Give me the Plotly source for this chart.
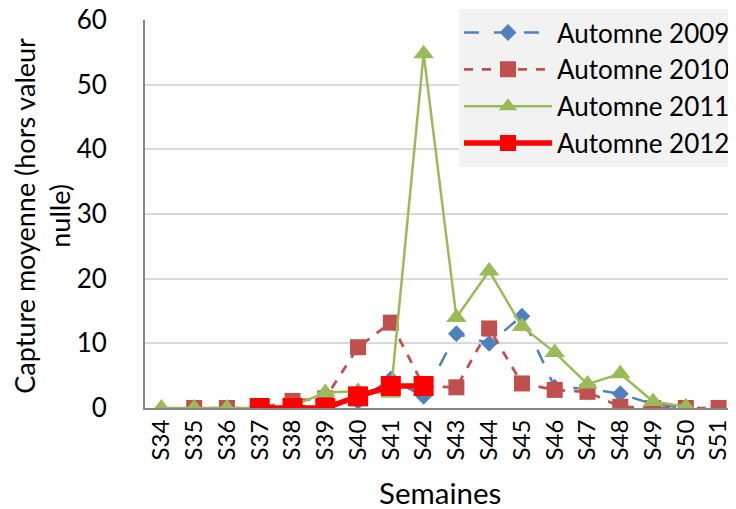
import plotly.graph_objects as go

weeks = ["S34", "S35", "S36", "S37", "S38", "S39", "S40", "S41", "S42",
         "S43", "S44", "S45", "S46", "S47", "S48", "S49", "S50", "S51"]

weeks_2009 = ["S37", "S38", "S39", "S40", "S41", "S42", "S43", "S44", "S45",
              "S46", "S47", "S48", "S49", "S50"]
vals_2009 = [0, 0.3, 0.5, 1.0, 4.5, 1.8, 11.5, 10.0, 14.2, 3.2, 3.0, 2.2, 0.6, 0]

weeks_2010 = ["S35", "S36", "S37", "S38", "S39", "S40", "S41", "S42", "S43",
              "S44", "S45", "S46", "S47", "S48", "S49", "S50", "S51"]
vals_2010 = [0, 0, 0, 1.1, 1.5, 9.4, 13.2, 3.4, 3.2, 12.3, 3.8, 2.8, 2.5, 0.2, 0, 0, 0]

weeks_2011 = ["S34", "S35", "S36", "S37", "S38", "S39", "S40", "S41", "S42",
              "S43", "S44", "S45", "S46", "S47", "S48", "S49", "S50"]
vals_2011 = [0, 0, 0, 0, 0.3, 2.4, 2.6, 2.3, 54.8, 14.0, 21.2, 12.6, 8.6, 3.7, 5.3, 1.0, 0.2]

weeks_2012 = ["S37", "S38", "S39", "S40", "S41", "S42"]
vals_2012 = [0, 0, 0, 1.8, 3.4, 3.4]

y_ticks = [0, 10, 20, 30, 40, 50, 60]

x_title = "Semaines"
y_title = "Capture moyenne (hors valeur<br>nulle)"

FONT = "Lato"
AXIS_GRAY = "#868686"

fig = go.Figure()
fig.add_trace(go.Scatter(
    x=weeks_2009, y=vals_2009, name="Automne 2009", mode="lines+markers",
    line=dict(color="#4f81bd", width=2.5, dash="longdash"),
    marker=dict(symbol="diamond", size=13, color="#4f81bd")))
fig.add_trace(go.Scatter(
    x=weeks_2010, y=vals_2010, name="Automne 2010", mode="lines+markers",
    line=dict(color="#c0504d", width=2.75, dash="dash"),
    marker=dict(symbol="square", size=16, color="#c0504d")))
fig.add_trace(go.Scatter(
    x=weeks_2011, y=vals_2011, name="Automne 2011", mode="lines+markers",
    line=dict(color="#9bbb59", width=2.5),
    marker=dict(symbol="triangle-up", size=18, color="#9bbb59")))
fig.add_trace(go.Scatter(
    x=weeks_2012, y=vals_2012, name="Automne 2012", mode="lines+markers",
    line=dict(color="#ff0000", width=5.5),
    marker=dict(symbol="square", size=20, color="#ff0000")))

n = len(weeks)
boundaries = [i - 0.5 for i in range(n + 1)]

# the page body adds an 8px margin, so the figure is 8px smaller than the window
fig.update_layout(
    width=728, height=501,
    margin=dict(l=137, r=1, t=12, b=101, autoexpand=False),
    plot_bgcolor="white", paper_bgcolor="white",
    font=dict(family=FONT, size=25, color="black"),
    showlegend=True,
    legend=dict(x=1.0, xanchor="right", y=1.028, yanchor="top",
                bgcolor="#f2f2f2", font=dict(size=26, family=FONT),
                tracegroupgap=0, itemwidth=88),
    # primary axes carry the labels (transparent long ticks push labels out)
    xaxis=dict(type="category", categoryorder="array", categoryarray=weeks,
               range=[-0.5, n - 0.5], automargin=False,
               tickangle=-90, tickfont=dict(size=24),
               ticks="outside", tickson="boundaries", ticklen=21,
               tickcolor="rgba(0,0,0,0)", showline=True, linecolor=AXIS_GRAY,
               linewidth=2, showgrid=False, ticklabeloverflow="allow"),
    yaxis=dict(range=[0, 60], tickvals=y_ticks, tickfont=dict(size=26),
               automargin=False, ticklabeloverflow="allow",
               ticks="outside", ticklen=31, tickcolor="rgba(0,0,0,0)",
               showline=True, linecolor=AXIS_GRAY, linewidth=2,
               gridcolor="#d9d9d9", gridwidth=1.5, zeroline=False),
    # overlay axes draw the short visible tick marks
    xaxis2=dict(overlaying="x", anchor="y", side="bottom", range=[-0.5, n - 0.5],
                tickvals=boundaries, showticklabels=False, ticks="outside",
                ticklen=8, tickwidth=1.5, tickcolor=AXIS_GRAY, showline=False,
                showgrid=False, zeroline=False, automargin=False),
    yaxis2=dict(overlaying="y", anchor="x", side="left", range=[0, 60],
                tickvals=y_ticks, showticklabels=False, ticks="outside",
                ticklen=9, tickwidth=1.5, tickcolor=AXIS_GRAY, showline=False,
                showgrid=False, zeroline=False, automargin=False),
    annotations=[
        dict(text=x_title, xref="paper", yref="paper", x=0.5, y=-0.2165,
             xanchor="center", yanchor="middle", showarrow=False,
             font=dict(size=29.5, family=FONT)),
        dict(text=y_title, xref="paper", yref="paper", x=-0.175, y=0.495,
             xanchor="center", yanchor="middle", showarrow=False, textangle=-90,
             font=dict(size=27, family=FONT)),
    ],
)

fig.write_html("out.html")
